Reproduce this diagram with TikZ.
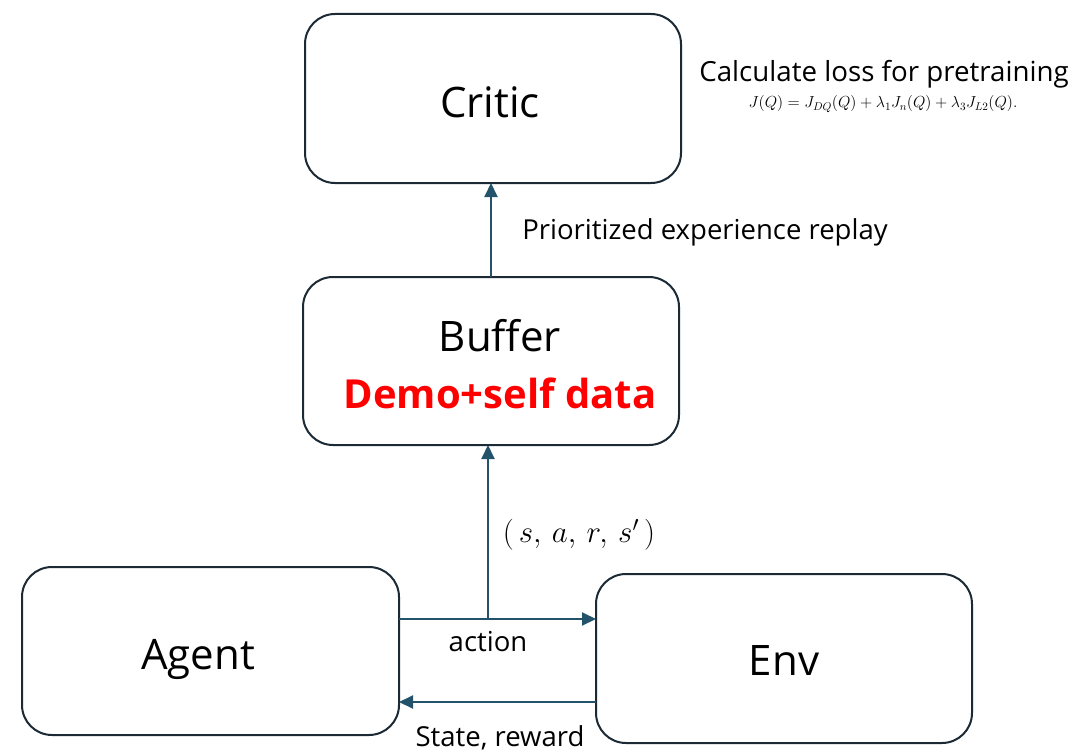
\documentclass[tikz,border=0pt]{standalone}
\usepackage{fix-cm}
\usepackage{fontspec}
\setmainfont{Open Sans}
\usetikzlibrary{arrows.meta}
\definecolor{boxline}{HTML}{1B2A35}
\definecolor{arrowc}{HTML}{22536A}
\definecolor{demored}{HTML}{FF0000}
\tikzset{
  blk/.style={draw=boxline, line width=2pt, rounded corners=30pt, fill=white},
  conn/.style={draw=arrowc, line width=2pt, -{Triangle[length=14pt,width=13pt]}},
  lbl/.style={inner sep=0pt, font=\fontsize{27.5}{32}\selectfont},
  big/.style={inner sep=0pt, font=\fontsize{42}{50}\selectfont}
}
\begin{document}
\begin{tikzpicture}[x=1pt,y=-1pt]
\useasboundingbox (0,0) rectangle (1074,752);
% boxes
\draw[blk] (305,14) rectangle (681,183);
\draw[blk] (303,277) rectangle (679,445);
\draw[blk] (22,567) rectangle (399,735);
\draw[blk] (596,574) rectangle (972,743);
\node[big] (criticT) at (490,102) {Critic};
\node[big] (bufferT) at (500,336) {Buffer};
\node[inner sep=0pt, font=\fontsize{40}{48}\selectfont\bfseries, text=demored] (demo) at (500,393) {Demo+self data};
\node[big] (agentT) at (198,659) {Agent};
\node[big] (envT) at (784,661) {Env};
% connector anchor coordinates
\coordinate (bufTop) at (491,277);
\coordinate (critBot) at (491,183);
\coordinate (bufBot) at (488,445);
\coordinate (junc) at (488,619);
\coordinate (agR1) at (399,619);
\coordinate (envL1) at (596,619);
\coordinate (envL2) at (596,702);
\coordinate (agR2) at (399,702);
% connectors
\draw[conn] (bufTop) -- (critBot);
\draw[conn] (agR1) -- (envL1);
\draw[conn] (junc) -- (bufBot);
\draw[conn] (envL2) -- (agR2);
% labels
\node[inner sep=0pt, font=\fontsize{27.7}{32}\selectfont] (calc) at (884,74) {Calculate loss for pretraining};
\node[inner sep=0pt, font=\fontsize{16}{19}\selectfont] (formula) at (883,104) {$J(Q) = J_{DQ}(Q) + \lambda_1 J_n(Q) + \lambda_3 J_{L2}(Q).$};
\node[inner sep=0pt, font=\fontsize{31}{36}\selectfont] (tuple) at (579,535) {$(\,s,\,a,\,r,\,s'\,)$};
\node[lbl] (per) at (705,232) {Prioritized experience replay};
\node[lbl] (action) at (488,642) {action};
\node[lbl] (state) at (500,738) {State, reward};
\end{tikzpicture}
\end{document}
